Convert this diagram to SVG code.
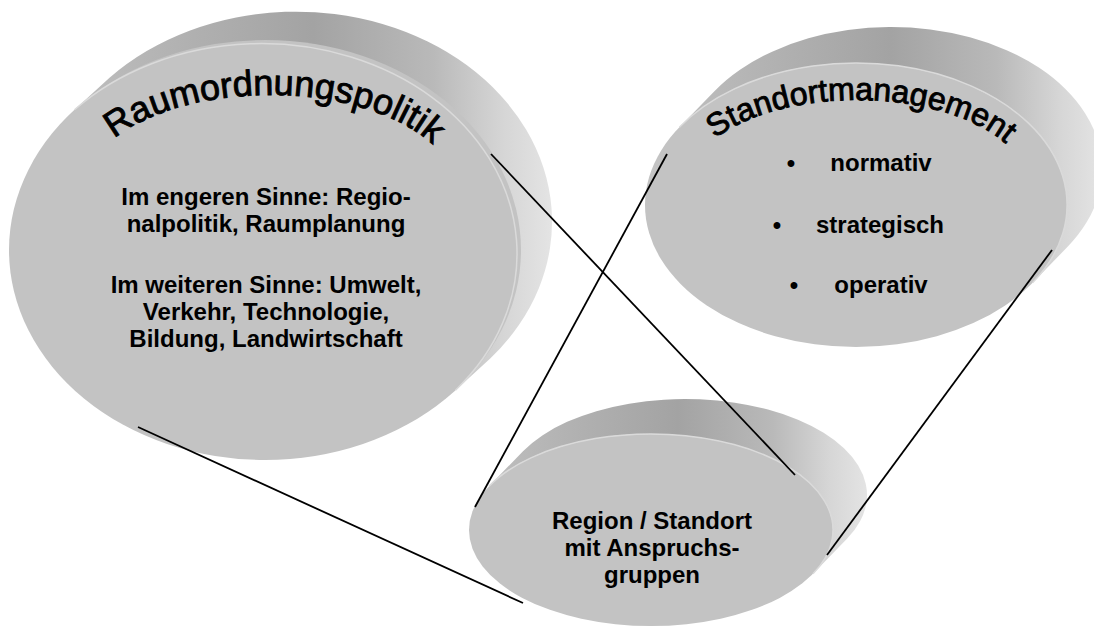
<svg xmlns="http://www.w3.org/2000/svg" width="1094" height="631" viewBox="0 0 1094 631">
  <defs>
    <!-- shading of the extruded disc edge: dark on top, bright towards the right -->
    <linearGradient id="sideGrad" x1="0" y1="0" x2="1" y2="0">
      <stop offset="0" stop-color="#bebebe"/>
      <stop offset="0.25" stop-color="#b0b0b0"/>
      <stop offset="0.5" stop-color="#a3a3a3"/>
      <stop offset="0.75" stop-color="#b9b9b9"/>
      <stop offset="0.9" stop-color="#d6d6d6"/>
      <stop offset="1" stop-color="#e4e4e4"/>
    </linearGradient>
    <!-- baselines of the arched titles -->
    <path id="archRaum" d="M 85 190 A 185 95 0 0 1 455 190"/>
    <path id="archStandort" d="M 682 192 A 175 92 0 0 1 1032 192"/>
  </defs>
  <style>
    .side { fill: url(#sideGrad); }
    .face { fill: #c3c3c3; }
    .rim { fill: none; stroke: #dadada; stroke-width: 1.5; }
    .body { font-family: "Liberation Sans", Arial, sans-serif; font-weight: bold; font-size: 24px; fill: #000; text-anchor: middle; }
    .arch { font-family: "Liberation Sans", Arial, sans-serif; fill: #000; stroke: #000; stroke-width: 0.9; text-anchor: middle; }
    .conn { fill: none; stroke: #000; stroke-width: 1.8; }
  </style>

  <rect width="1094" height="631" fill="#ffffff"/>

  <!-- left disc -->
  <g id="raumordnungspolitik">
    <path class="side" d="M 74.5 109.8 L 109.5 77.8 A 256 210 0 0 1 490.5 358.2 L 455.5 390.2 A 256 210 0 0 0 74.5 109.8 Z"/>
    <ellipse class="face" cx="265" cy="250" rx="256" ry="210"/>
    <path class="rim" d="M 74.5 109.8 A 256 210 0 0 1 455.5 390.2"/>
    <text class="arch" font-size="36"><textPath href="#archRaum" startOffset="51%">Raumordnungspolitik</textPath></text>
    <text class="body" x="266" y="205">Im engeren Sinne: Regio-</text>
    <text class="body" x="266" y="232">nalpolitik, Raumplanung</text>
    <text class="body" x="266" y="293">Im weiteren Sinne: Umwelt,</text>
    <text class="body" x="266" y="320">Verkehr, Technologie,</text>
    <text class="body" x="266" y="347">Bildung, Landwirtschaft</text>
  </g>

  <!-- right disc -->
  <g id="standortmanagement">
    <path class="side" d="M 679.4 127.2 L 714.4 91.2 A 211 142 0 0 1 1067.6 246.8 L 1032.6 282.8 A 211 142 0 0 0 679.4 127.2 Z"/>
    <ellipse class="face" cx="856" cy="205" rx="211" ry="142"/>
    <path class="rim" d="M 679.4 127.2 A 211 142 0 0 1 1032.6 282.8"/>
    <text class="arch" font-size="32"><textPath href="#archStandort" startOffset="51%">Standortmanagement</textPath></text>
    <text class="body" x="791" y="171">•</text>
    <text class="body" x="881" y="171">normativ</text>
    <text class="body" x="777" y="233">•</text>
    <text class="body" x="880" y="233">strategisch</text>
    <text class="body" x="794" y="293">•</text>
    <text class="body" x="881" y="293">operativ</text>
  </g>

  <!-- bottom disc -->
  <g id="region">
    <path class="side" d="M 489 486.2 L 523 451.2 A 182 96 0 0 1 847 538.8 L 813 573.8 A 182 96 0 0 0 489 486.2 Z"/>
    <ellipse class="face" cx="651" cy="530" rx="182" ry="96"/>
    <path class="rim" d="M 489 486.2 A 182 96 0 0 1 813 573.8"/>
    <text class="body" x="652" y="529">Region / Standort</text>
    <text class="body" x="652" y="556">mit Anspruchs-</text>
    <text class="body" x="652" y="583">gruppen</text>
  </g>

  <!-- connecting lines -->
  <g id="connectors">
    <line class="conn" x1="491" y1="154" x2="795" y2="475"/>
    <line class="conn" x1="667" y1="154" x2="475" y2="507"/>
    <line class="conn" x1="1052" y1="250" x2="827" y2="555"/>
    <line class="conn" x1="138" y1="427" x2="523" y2="603"/>
  </g>
</svg>
